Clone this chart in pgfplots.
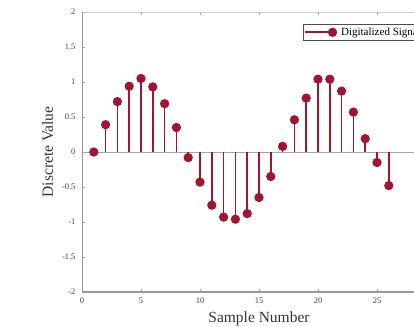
\documentclass[border=0pt]{standalone}
\usepackage{fontspec}
\setmainfont{Liberation Serif}
\usepackage{pgfplots}
\pgfplotsset{compat=1.18}
\definecolor{stem}{RGB}{162,20,47}
\begin{document}
\begin{tikzpicture}
\begin{axis}[
  scale only axis, width=354pt, height=280pt,
  xmin=0, xmax=30, ymin=-2, ymax=2,
  xtick={0,5,...,25}, ytick={-2,-1.5,...,2},
  axis line style={gray!40, line width=0.4pt},
  tick style={gray!70, line width=0.4pt}, major tick length=3pt,
  tick align=inside,
  ticklabel style={font=\fontsize{8.5}{9}\selectfont, text=black!75},
  yticklabel style={xshift=-3pt},
  xticklabel style={yshift=-2pt},
  /pgf/number format/assume math mode=true,
  xlabel={Sample Number}, ylabel={Discrete Value},
  label style={font=\fontsize{15.5}{17}\selectfont, text=black!80},
  ylabel style={yshift=2pt},
  xlabel style={yshift=-2pt},
  extra y ticks={0}, extra y tick labels={},
  extra y tick style={grid=major, major grid style={gray!70, line width=0.8pt}, major tick length=0pt},
  legend style={at={(rel axis cs:0.624,0.957)}, anchor=north west,
    draw=black!70, line width=0.4pt, font=\fontsize{11}{12}\selectfont,
    inner sep=1.5pt, row sep=0pt, nodes={inner xsep=4pt}},
  legend cell align=left,
  legend image code/.code={
    \draw[stem, line width=1.8pt] (0cm,0cm) -- (0.95cm,0cm);
    \fill[stem] (0.95cm,0cm) circle (3.8pt);
  },
]
\addplot[stem, ycomb, line width=1.6pt, mark=*, mark size=3.8pt, mark options={fill=stem, draw=stem}] coordinates {
(1,0.0) (2,0.39) (3,0.72) (4,0.94) (5,1.05) (6,0.93) (7,0.69) (8,0.35)
(9,-0.08) (10,-0.43) (11,-0.76) (12,-0.93) (13,-0.96) (14,-0.88) (15,-0.65)
(16,-0.35) (17,0.08) (18,0.46) (19,0.77) (20,1.04) (21,1.04) (22,0.87)
(23,0.57) (24,0.19) (25,-0.15) (26,-0.48)
};
\addlegendentry{Digitalized Signal}
\draw[gray!80, line width=1.5pt] (rel axis cs:0,1) -- (rel axis cs:0,0) -- (rel axis cs:1,0);
\coordinate (bl) at (rel axis cs:0,0);
\coordinate (tr) at (rel axis cs:1,1);
\end{axis}
\pgfresetboundingbox
\path ([shift={(-82pt,-34pt)}]bl) rectangle ([shift={(-22pt,12pt)}]tr);
\end{tikzpicture}
\end{document}
